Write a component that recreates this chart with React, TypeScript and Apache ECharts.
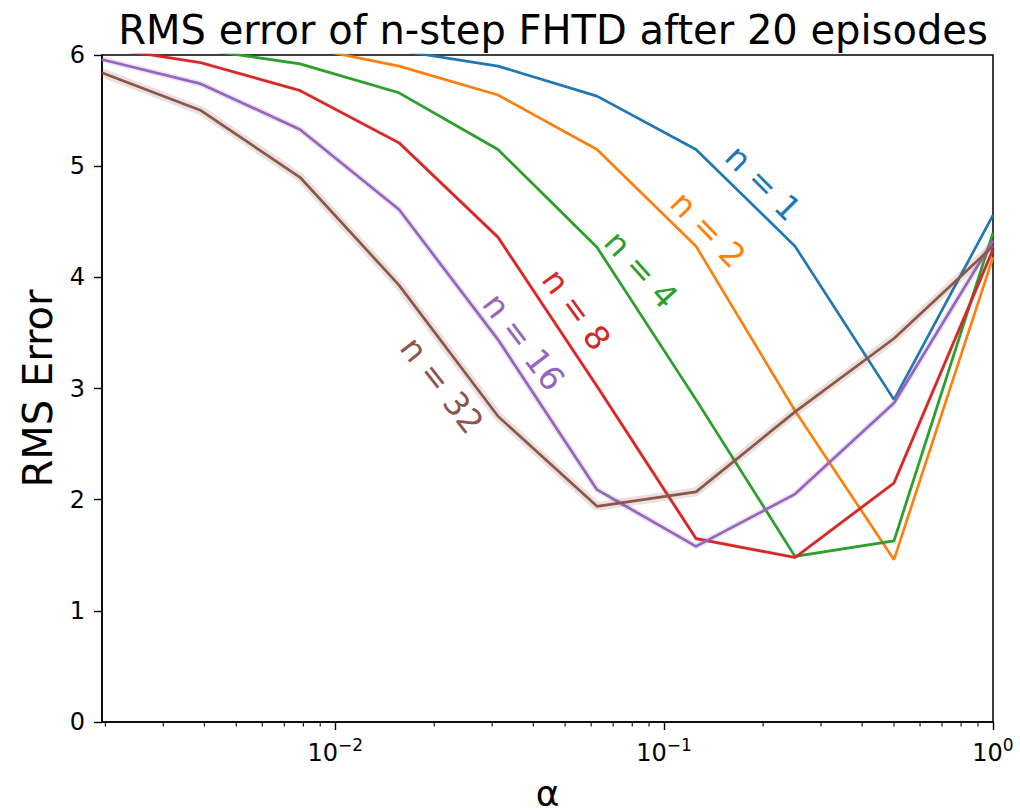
import React, { useEffect, useRef } from "react";
import * as echarts from "echarts";

const alphas = [1 / 512, 1 / 256, 1 / 128, 1 / 64, 1 / 32, 1 / 16, 1 / 8, 1 / 4, 1 / 2, 1];
const seriesNames = ["n = 1", "n = 2", "n = 4", "n = 8", "n = 16", "n = 32"];
const n1 = [6.12, 6.1, 6.08, 6.04, 5.9, 5.63, 5.15, 4.28, 2.9, 4.56];
const n2 = [6.15, 6.12, 6.08, 5.9, 5.64, 5.15, 4.28, 2.8, 1.46, 4.18];
const n4 = [6.1, 6.05, 5.92, 5.66, 5.15, 4.27, 2.9, 1.49, 1.63, 4.4];
const n8 = [6.07, 5.93, 5.68, 5.21, 4.36, 3.02, 1.65, 1.48, 2.15, 4.25];
const n16 = [5.96, 5.74, 5.33, 4.61, 3.44, 2.09, 1.58, 2.05, 2.87, 4.33];
const n32 = [5.84, 5.5, 4.9, 3.93, 2.75, 1.94, 2.07, 2.79, 3.45, 4.28];
const allValues = [n1, n2, n4, n8, n16, n32];
const colors = ["#1f77b4", "#ff7f0e", "#2ca02c", "#d62728", "#9467bd", "#8c564b"];
const bandWidths = [0, 0, 3, 4, 6, 9];
// label anchor positions in data space [alpha, value] and rotation (deg, clockwise)
const labelAlpha = [0.2, 0.136, 0.0851, 0.0541, 0.0374, 0.0211];
const labelValue = [4.85, 4.43, 4.07, 3.71, 3.42, 3.03];
const labelAngle = [45, 46, 48, 54, 53, 52];
const minorTickValues = [
  0.002, 0.003, 0.004, 0.005, 0.006, 0.007, 0.008, 0.009,
  0.02, 0.03, 0.04, 0.05, 0.06, 0.07, 0.08, 0.09,
  0.2, 0.3, 0.4, 0.5, 0.6, 0.7, 0.8, 0.9,
];

const FONT = "DejaVu Sans";

export default function App() {
  const ref = useRef<HTMLDivElement>(null);
  useEffect(() => {
    if (!ref.current) return;
    const chart = echarts.init(ref.current, undefined, { renderer: "svg" });
    const series: any[] = [];
    allValues.forEach((vals, i) => {
      if (bandWidths[i] > 0) {
        series.push({
          type: "line",
          name: seriesNames[i] + " band",
          data: alphas.map((a, j) => [a, vals[j]]),
          showSymbol: false,
          lineStyle: { color: colors[i], width: bandWidths[i], opacity: 0.18 },
          z: 2 + i * 2,
          silent: true,
        });
      }
      series.push({
        type: "line",
        name: seriesNames[i],
        data: alphas.map((a, j) => [a, vals[j]]),
        showSymbol: false,
        lineStyle: { color: colors[i], width: 2.7 },
        z: 3 + i * 2,
      });
    });
    series.push({
      type: "custom",
      name: "minor ticks",
      data: minorTickValues.map((v) => [v, 0]),
      renderItem: (params: any, api: any) => {
        const p = api.coord([api.value(0), 0]);
        return {
          type: "line",
          shape: { x1: p[0], y1: p[1], x2: p[0], y2: p[1] + 4.5 },
          style: { stroke: "#000", lineWidth: 1.1 },
        };
      },
      silent: true,
      z: 20,
    });

    chart.setOption({
      animation: false,
      backgroundColor: "#fff",
      title: {
        text: "RMS error of n-step FHTD after 20 episodes",
        left: 548,
        textAlign: "center",
        top: 5,
        textStyle: { fontFamily: FONT, fontSize: 40, fontWeight: "normal", color: "#000" },
      },
      grid: {
        left: 102,
        right: 27,
        top: 55,
        bottom: 90,
        show: true,
        borderColor: "#000",
        borderWidth: 1.5,
        backgroundColor: "transparent",
        containLabel: false,
        outerBoundsMode: "none",
      },
      xAxis: {
        type: "log",
        logBase: 10,
        min: 1 / 512,
        max: 1,
        name: "α",
        nameLocation: "middle",
        nameGap: 53,
        nameTextStyle: { fontFamily: FONT, fontSize: 36, color: "#000" },
        axisLine: { lineStyle: { color: "#000", width: 1.5 } },
        axisTick: { length: 8, lineStyle: { color: "#000", width: 1.4 } },
        splitLine: { show: false },
        axisLabel: {
          showMinLabel: false,
          margin: 14,
          formatter: (v: number) => {
            const e = Math.round(Math.log10(v));
            return "{b|10}{s|" + (e < 0 ? "−" + -e : String(e)) + "}";
          },
          rich: {
            b: { fontFamily: FONT, fontSize: 24, color: "#000", verticalAlign: "bottom" },
            s: { fontFamily: FONT, fontSize: 17, color: "#000", verticalAlign: "top", padding: [0, 0, 12, 0] },
          },
        },
      },
      yAxis: {
        type: "value",
        min: 0,
        max: 6,
        interval: 1,
        name: "RMS Error",
        nameLocation: "middle",
        nameGap: 44,
        nameTextStyle: { fontFamily: FONT, fontSize: 40, color: "#000" },
        axisLine: { show: true, lineStyle: { color: "#000", width: 1.5 } },
        axisTick: { show: true, length: 8, lineStyle: { color: "#000", width: 1.4 } },
        splitLine: { show: false },
        axisLabel: { fontFamily: FONT, fontSize: 24, color: "#000", margin: 17 },
      },
      series,
    });

    const graphics = seriesNames.map((name, i) => {
      const p = chart.convertToPixel({ gridIndex: 0 }, [labelAlpha[i], labelValue[i]]) as number[];
      return {
        type: "text",
        x: p[0],
        y: p[1],
        rotation: (-labelAngle[i] * Math.PI) / 180,
        style: {
          text: name,
          fill: colors[i],
          font: "33px 'DejaVu Sans'",
          align: "center",
          verticalAlign: "middle",
        },
        z: 100,
      };
    });
    chart.setOption({ graphic: graphics });

    return () => chart.dispose();
  }, []);
  return <div ref={ref} style={{ width: 1020, height: 812, position: "absolute", left: 0, top: 0 }} />;
}
